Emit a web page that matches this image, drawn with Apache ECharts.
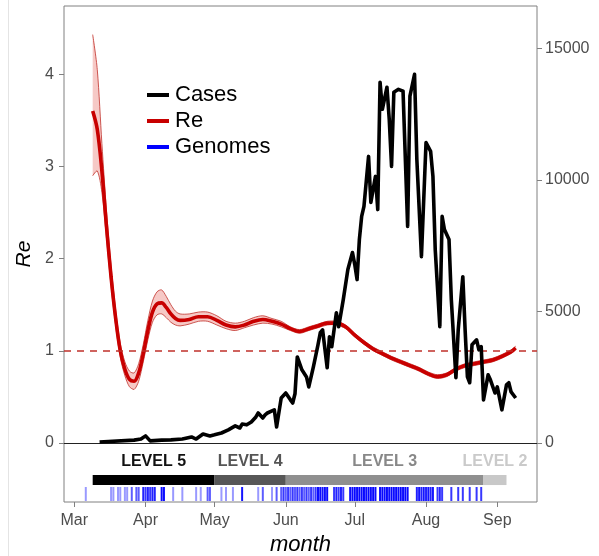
<!DOCTYPE html>
<html>
<head>
<meta charset="utf-8">
<title>Re, cases and genomes</title>
<script src="https://cdn.jsdelivr.net/npm/echarts@6/dist/echarts.min.js"></script>
<style>
  html, body { margin: 0; padding: 0; background: #ffffff; }
  #chart { width: 599px; height: 556px; }
</style>
</head>
<body>
<div id="chart"></div>
<script>
// Day numbers count from 1 March 2020 (day 0).
const monthLabels = ['Mar', 'Apr', 'May', 'Jun', 'Jul', 'Aug', 'Sep'];
const monthStarts = [0, 31, 61, 92, 122, 153, 184];
const reTicks = [0, 1, 2, 3, 4];
const caseTicks = [0, 5000, 10000, 15000];

// Daily confirmed cases
const caseDays = [11, 26, 29, 31, 33, 38, 42, 47, 51, 53, 56, 59, 61, 64, 67, 70, 72, 73, 75, 77,
  79, 80, 82, 83, 84, 86, 87, 88, 90, 92, 94, 95, 96, 97, 99, 101, 102, 104, 106, 107,
  108, 110, 111, 112, 114, 115, 117, 119, 121, 122, 123, 124, 125, 126, 128, 129, 131, 132, 133, 134,
  136, 137, 138, 139, 141, 143, 145, 146, 148, 149, 151, 153, 155, 156, 157, 159, 160, 161, 163, 164,
  166, 167, 169, 170, 171, 172, 173, 175, 176, 177, 178, 180, 181, 183, 184, 186, 188, 189, 190, 192];
const caseValues = [40, 110, 150, 270, 80, 110, 120, 150, 230, 150, 340, 270, 310, 380, 500, 650, 570, 720, 690, 800,
  990, 1140, 950, 1070, 1140, 1220, 1260, 610, 1710, 1900, 1640, 1520, 1870, 3270, 2780, 2510, 2130, 2890, 3730, 4190,
  4300, 2860, 4040, 3660, 4950, 4420, 5450, 6590, 7240, 6780, 6210, 7730, 8610, 8990, 10890, 9140, 10130, 8870, 13710, 12680,
  13520, 12300, 10510, 13330, 13440, 13370, 8230, 13180, 14010, 10780, 7080, 11420, 11080, 10130, 7350, 4420, 8610, 8110, 7730, 5450,
  2480, 4300, 6320, 4300, 2510, 2290, 3730, 3920, 3540, 3660, 1640, 2590, 2400, 1900, 2130, 1260, 2210, 2290, 1940, 1710];

// Effective reproduction number with its credible interval
const reDays = [8, 10, 12, 14, 16, 18, 20, 22, 24, 26, 28, 30, 32, 34, 36, 38, 40, 42, 44, 46,
  50, 54, 58, 62, 66, 70, 74, 78, 82, 86, 90, 94, 98, 102, 106, 110, 114, 118, 122, 126,
  130, 134, 138, 142, 146, 150, 154, 158, 162, 166, 170, 174, 178, 182, 186, 190, 192];
const reMean = [3.60, 3.40, 2.95, 2.35, 1.80, 1.35, 1.00, 0.80, 0.69, 0.67, 0.76, 0.97, 1.22, 1.42, 1.51, 1.52, 1.47, 1.40, 1.35, 1.33,
  1.34, 1.37, 1.37, 1.33, 1.28, 1.26, 1.28, 1.32, 1.34, 1.32, 1.29, 1.24, 1.21, 1.24, 1.27, 1.30, 1.30, 1.26, 1.17, 1.09,
  1.02, 0.97, 0.92, 0.88, 0.84, 0.80, 0.75, 0.72, 0.74, 0.80, 0.84, 0.86, 0.88, 0.90, 0.94, 0.99, 1.03];
const reLow = [2.90, 2.95, 2.72, 2.22, 1.70, 1.27, 0.93, 0.73, 0.61, 0.58, 0.67, 0.88, 1.12, 1.31, 1.39, 1.40, 1.36, 1.31, 1.28, 1.27,
  1.29, 1.32, 1.32, 1.28, 1.24, 1.22, 1.25, 1.28, 1.30, 1.29, 1.26, 1.22, 1.19, 1.22, 1.25, 1.28, 1.28, 1.24, 1.15, 1.07,
  1.00, 0.95, 0.90, 0.86, 0.82, 0.78, 0.73, 0.70, 0.72, 0.78, 0.82, 0.84, 0.86, 0.88, 0.92, 0.97, 1.01];
const reHigh = [4.43, 4.05, 3.25, 2.52, 1.92, 1.44, 1.08, 0.88, 0.78, 0.76, 0.86, 1.07, 1.33, 1.54, 1.64, 1.66, 1.59, 1.50, 1.43, 1.40,
  1.40, 1.42, 1.42, 1.38, 1.32, 1.30, 1.32, 1.36, 1.38, 1.35, 1.32, 1.26, 1.23, 1.26, 1.29, 1.32, 1.32, 1.28, 1.19, 1.11,
  1.04, 0.99, 0.94, 0.90, 0.86, 0.82, 0.77, 0.74, 0.76, 0.82, 0.86, 0.88, 0.90, 0.92, 0.96, 1.01, 1.05];

// Lockdown levels
const levelNames = ['LEVEL 5', 'LEVEL 4', 'LEVEL 3', 'LEVEL 2'];
const levelStarts = [8, 61, 92, 178];
const levelEnds = [61, 92, 178, 188];

// Sampling dates of sequenced genomes and number sequenced per date
const genomeDays = [5, 16, 17, 19, 20, 22, 23, 25, 27, 28, 30, 31, 32, 33, 34, 35, 38, 39, 43, 47,
  53, 55, 58, 59, 64, 66, 69, 73, 80, 82, 86, 88, 90, 91, 92, 93, 94, 95, 96, 97,
  98, 99, 100, 101, 102, 103, 104, 105, 106, 107, 108, 109, 110, 113, 114, 115, 116, 117, 120, 121,
  122, 123, 124, 125, 126, 127, 128, 129, 130, 131, 133, 134, 135, 136, 137, 138, 139, 140, 141, 142,
  143, 144, 145, 149, 150, 151, 152, 153, 154, 155, 156, 158, 159, 160, 164, 167, 169, 172, 175, 177];
const genomeCounts = [1, 1, 1, 1, 1, 1, 1, 2, 2, 2, 4, 3, 4, 3, 4, 4, 6, 6, 1, 1,
  1, 1, 2, 2, 1, 1, 1, 5, 1, 2, 1, 2, 2, 3, 2, 3, 2, 3, 2, 3,
  2, 3, 2, 3, 2, 3, 2, 3, 6, 6, 5, 6, 6, 3, 4, 3, 4, 3, 6, 6,
  7, 6, 7, 6, 7, 6, 7, 6, 7, 6, 6, 7, 6, 7, 6, 7, 6, 7, 6, 7,
  6, 7, 6, 4, 5, 4, 5, 4, 5, 4, 5, 3, 4, 3, 3, 3, 3, 3, 3, 3];

// Re axis range; the case axis shares the zero and is scaled by caseScale
const reMin = -0.64, reMax = 4.74;
const caseScale = 3503.4;
const dayMin = -4.48, dayMax = 201.27;

const FONT = '"Liberation Sans", Arial, Helvetica, sans-serif';
const levelColors = ['#000000', '#575757', '#8f8f8f', '#c8c8c8'];
const levelTextColors = ['#111111', '#555555', '#888888', '#cacaca'];

const chart = echarts.init(document.getElementById('chart'), null, { renderer: 'canvas' });

const pairs = (xs, ys) => xs.map((x, i) => [x, ys[i]]);

const option = {
  animation: false,
  backgroundColor: '#ffffff',
  grid: {
    left: 64, right: 62, top: 6, bottom: 54,
    outerBoundsMode: 'none',
    containLabel: false,
    show: true, borderColor: '#808080', borderWidth: 1, backgroundColor: 'transparent'
  },
  legend: {
    left: 142, top: 79,
    orient: 'vertical',
    itemWidth: 22, itemHeight: 4, itemGap: 4,
    selectedMode: false,
    textStyle: { fontFamily: FONT, fontSize: 22, color: '#000', lineHeight: 22, padding: [0, 0, 0, 1] },
    data: [
      { name: 'Cases', icon: 'rect' },
      { name: 'Re', icon: 'rect' },
      { name: 'Genomes', icon: 'rect' }
    ]
  },
  xAxis: {
    type: 'value', min: dayMin, max: dayMax,
    name: 'month', nameLocation: 'middle', nameGap: 32,
    nameTextStyle: { fontFamily: FONT, fontSize: 22, fontStyle: 'italic', color: '#000' },
    axisLine: { show: false, onZero: false },
    splitLine: { show: false },
    axisTick: { show: true, length: 5, customValues: monthStarts, lineStyle: { color: '#808080' } },
    axisLabel: {
      customValues: monthStarts, margin: 11,
      fontFamily: FONT, fontSize: 16, color: '#4d4d4d',
      formatter: v => monthLabels[monthStarts.indexOf(Math.round(v))] || ''
    }
  },
  yAxis: [
    {
      type: 'value', min: reMin, max: reMax,
      name: 'Re', nameLocation: 'middle', nameGap: 8,
      nameTextStyle: { fontFamily: FONT, fontSize: 21, fontStyle: 'italic', color: '#000' },
      axisLine: { show: false, onZero: false },
      splitLine: { show: false },
      axisTick: { show: true, length: 5, customValues: reTicks, lineStyle: { color: '#808080' } },
      axisLabel: { customValues: reTicks, margin: 10, fontFamily: FONT, fontSize: 16, color: '#4d4d4d' }
    },
    {
      type: 'value', position: 'right',
      min: reMin * caseScale, max: reMax * caseScale,
      axisLine: { show: false, onZero: false },
      splitLine: { show: false },
      axisTick: { show: true, length: 5, customValues: caseTicks, lineStyle: { color: '#808080' } },
      axisLabel: {
        customValues: caseTicks, margin: 8, fontFamily: FONT, fontSize: 16, color: '#4d4d4d',
        formatter: v => String(Math.round(v))
      }
    }
  ],
  series: [
    // Credible band: one smoothed polygon (upper bound out, lower bound back) plus its two edges
    {
      name: 'ReBand', type: 'custom', yAxisIndex: 0, z: 2, silent: true,
      encode: { x: 0, y: [1, 2] },
      data: reDays.map((d, i) => [d, reLow[i], reHigh[i]]),
      renderItem: (params, api) => {
        if (params.dataIndex !== 0) return null;
        const up = reDays.map((d, i) => api.coord([d, reHigh[i]]));
        const lo = reDays.map((d, i) => api.coord([d, reLow[i]]));
        const keepIn = [up[0].slice(), up[0].slice()];
        const edge = { stroke: '#c0302a', lineWidth: 0.8, fill: null };
        return {
          type: 'group',
          children: [
            { type: 'polygon',
              shape: { points: up.concat(lo.slice().reverse()), smooth: 0.3, smoothConstraint: keepIn },
              style: { fill: '#f6c9c6', stroke: null } },
            { type: 'polyline', shape: { points: up, smooth: 0.3, smoothConstraint: keepIn }, style: edge },
            { type: 'polyline', shape: { points: lo, smooth: 0.3, smoothConstraint: keepIn }, style: edge }
          ]
        };
      }
    },
    {
      name: 'Re', type: 'line', yAxisIndex: 0, smooth: 0.35,
      showSymbol: false, z: 4,
      color: '#c80000',
      lineStyle: { color: '#c80000', width: 3.6 },
      data: pairs(reDays, reMean),
      markLine: {
        silent: true, symbol: ['none', 'none'], label: { show: false },
        data: [
          { yAxis: 1, lineStyle: { color: '#c0302a', type: [7, 6], width: 1.6 } },
          { yAxis: 0, lineStyle: { color: '#222222', type: 'solid', width: 1 } }
        ]
      }
    },
    {
      name: 'Cases', type: 'line', yAxisIndex: 1,
      showSymbol: false, z: 5,
      color: '#000000',
      lineStyle: { color: '#000000', width: 3.6, join: 'round' },
      data: pairs(caseDays, caseValues)
    },
    // Lockdown level bars with their labels
    {
      name: 'Levels', type: 'custom', yAxisIndex: 0, z: 3, silent: true,
      encode: { x: [0, 1], y: 2 },
      data: levelStarts.map((s, i) => [s, levelEnds[i], -0.4]),
      renderItem: (params, api) => {
        const i = params.dataIndex;
        const a = api.coord([api.value(0), -0.347]);
        const b = api.coord([api.value(1), -0.456]);
        const ty = api.coord([api.value(0), -0.205])[1];
        return {
          type: 'group',
          children: [
            { type: 'rect', shape: { x: a[0], y: a[1], width: b[0] - a[0], height: b[1] - a[1] },
              style: { fill: levelColors[i] } },
            { type: 'text', x: (a[0] + b[0]) / 2, y: ty,
              style: { text: levelNames[i], fill: levelTextColors[i], align: 'center', verticalAlign: 'middle',
                       font: 'bold 16px ' + FONT } }
          ]
        };
      }
    },
    // One stroke per genome sampling date
    {
      name: 'Genomes', type: 'custom', yAxisIndex: 0, z: 3, silent: true,
      itemStyle: { color: '#0000ff' },
      encode: { x: 0, y: 2 },
      data: genomeDays.map((d, i) => [d, genomeCounts[i], -0.55]),
      renderItem: (params, api) => {
        const top = api.coord([api.value(0), -0.477]);
        const bot = api.coord([api.value(0), -0.629]);
        const n = api.value(1);
        return {
          type: 'line',
          shape: { x1: top[0], y1: top[1], x2: bot[0], y2: bot[1] },
          style: { stroke: '#0000ff', lineWidth: 2, opacity: 1 - Math.pow(0.6, n) }
        };
      }
    }
  ],
  graphic: [
    { type: 'line', shape: { x1: 8.5, y1: 0, x2: 8.5, y2: 556 }, style: { stroke: '#e4e4e4', lineWidth: 1 }, silent: true }
  ]
};

chart.setOption(option);
</script>
</body>
</html>
